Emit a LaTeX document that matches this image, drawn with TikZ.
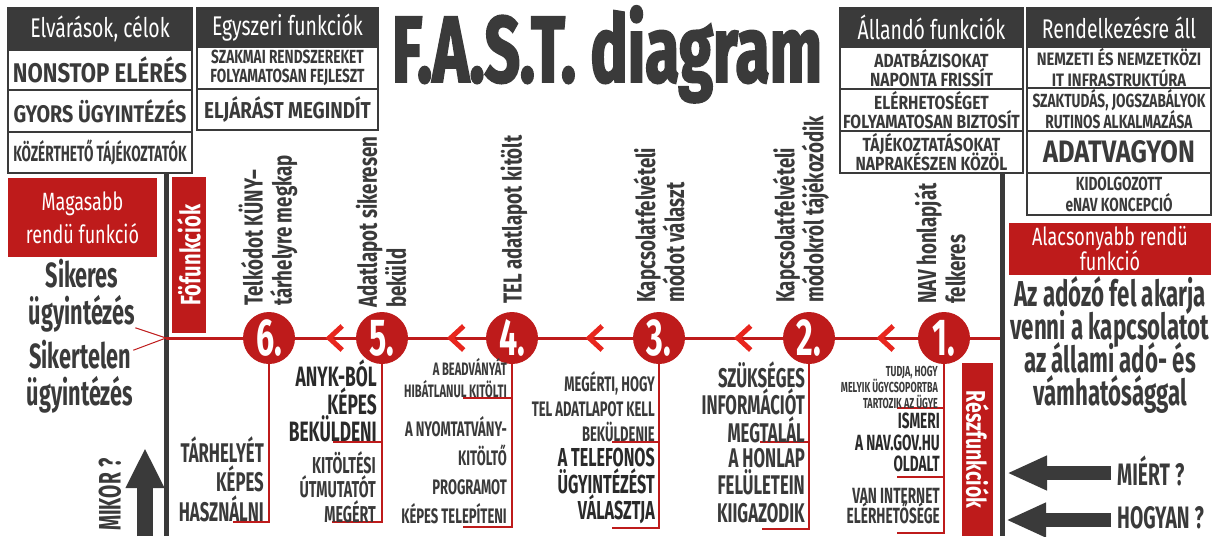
\documentclass[tikz,border=0pt]{standalone}
\usepackage{fontspec}
\usetikzlibrary{positioning,arrows.meta,decorations.markings}
\newfontfamily\narrowfont{Fira Sans}[FakeStretch=0.62]
\newfontfamily\cellfont{Fira Sans}[FakeStretch=0.72]
\newfontfamily\widefont{Fira Sans}[FakeStretch=0.82]
\newfontfamily\titlefont{Fira Sans}[FakeStretch=0.66, BoldFeatures={FakeBold=2}]
\newcommand{\fsz}[2]{\fontsize{#1}{#2}\selectfont\lineskiplimit=-30pt\relax}
\definecolor{fastgray}{HTML}{3A3A3A}
\definecolor{fastdark}{HTML}{2A2A2A}
\definecolor{fastred}{HTML}{BE1B1B}
\definecolor{chevred}{HTML}{E8261E}
\tikzset{
    table-head/.style = {fill=fastgray, draw=fastgray, line width=1.5pt, text=white, font=\cellfont\fsz{27}{30}, minimum height=39pt, inner sep=0pt, outer sep=0pt, anchor=north west},
    table-cell/.style = {draw=fastgray, fill=white, line width=1.5pt, text=fastgray, align=center, inner sep=0pt, outer sep=0pt},
    red-box/.style = {fill=fastred, text=white, align=center, inner sep=0pt, outer sep=0pt},
    step-circle/.style = {circle, fill=fastred, minimum size=52pt, inner sep=0pt, text=white, font=\narrowfont\bfseries\fsz{52}{52}},
    step-label/.style = {rotate=90, anchor=west, align=left, text=fastgray, inner sep=0pt, font=\cellfont\bfseries\fsz{26}{29}},
    col-text/.style = {anchor=north east, align=right, text=fastgray, inner sep=0pt},
    big-text/.style = {align=center, text=fastgray, inner sep=0pt, font=\narrowfont\bfseries\fsz{36}{33}},
    ask-text/.style = {text=fastgray, inner sep=0pt, font=\narrowfont\bfseries\fsz{31}{31}},
    bracket/.style = {draw=fastred, line width=2pt},
    thin-red/.style = {draw=fastred, line width=1pt},
    main-line/.style = {draw=fastred, line width=3pt},
    chevron-line/.style = {main-line, postaction={decorate}, decoration={markings, mark=at position 0.5 with {\arrow{Straight Barb[color=chevred, line width=5pt, length=13pt, width=24pt]}}}},
    big-arrow/.style = {draw=fastgray, line width=14pt, -{Triangle[length=40pt, width=32pt]}},
}

\begin{document}
\begin{tikzpicture}[x=1pt, y=-1pt]
\useasboundingbox (0,0) rectangle (1222,536);

% gerincek
\fill[fastgray] (163.5,173) rectangle (168.5,536);
\fill[fastgray] (999.5,173) rectangle (1004.5,536);

% tablazatok
\node[table-head, minimum width=184pt, minimum height=42pt] (ec-head) at (8,8) {Elvárások, célok};
\node[table-cell, minimum width=184pt, minimum height=40pt, below=0pt of ec-head, font=\widefont\bfseries\fsz{27}{30}] (ec-1) {NONSTOP ELÉRÉS};
\node[table-cell, minimum width=184pt, minimum height=42pt, below=0pt of ec-1, font=\widefont\bfseries\fsz{24}{26}] (ec-2) {GYORS ÜGYINTÉZÉS};
\node[table-cell, minimum width=184pt, minimum height=41pt, below=0pt of ec-2, font=\narrowfont\bfseries\fsz{22}{24}] (ec-3) {KÖZÉRTHETŐ TÁJÉKOZTATÓK};

\node[table-head, minimum width=181pt] (eg-head) at (197,8) {Egyszeri funkciók};
\node[table-cell, minimum width=181pt, minimum height=42pt, below=0pt of eg-head, font=\cellfont\bfseries\fsz{19}{19}] (eg-1) {SZAKMAI RENDSZEREKET\\FOLYAMATOSAN FEJLESZT};
\node[table-cell, minimum width=181pt, minimum height=41pt, below=0pt of eg-1, font=\widefont\bfseries\fsz{23}{25}] (eg-2) {ELJÁRÁST MEGINDÍT};

\node[table-head, minimum width=183pt] (al-head) at (840,8) {Állandó funkciók};
\node[table-cell, minimum width=183pt, minimum height=42pt, below=0pt of al-head, font=\widefont\bfseries\fsz{19}{19}] (al-1) {ADATBÁZISOKAT\\NAPONTA FRISSÍT};
\node[table-cell, minimum width=183pt, minimum height=42pt, below=0pt of al-1, font=\widefont\bfseries\fsz{19}{19}] (al-2) {ELÉRHETOSÉGET\\FOLYAMATOSAN BIZTOSÍT};
\node[table-cell, minimum width=183pt, minimum height=42pt, below=0pt of al-2, font=\widefont\bfseries\fsz{19}{19}] (al-3) {TÁJÉKOZTATÁSOKAT\\NAPRAKÉSZEN KÖZÖL};

\node[table-head, minimum width=184pt] (re-head) at (1027,8) {Rendelkezésre áll};
\node[table-cell, minimum width=184pt, minimum height=41pt, below=0pt of re-head, font=\widefont\bfseries\fsz{18}{21}] (re-1) {NEMZETI ÉS NEMZETKÖZI\\IT INFRASTRUKTÚRA};
\node[table-cell, minimum width=184pt, minimum height=43pt, below=0pt of re-1, font=\cellfont\bfseries\fsz{19}{21}] (re-2) {SZAKTUDÁS, JOGSZABÁLYOK\\RUTINOS ALKALMAZÁSA};
\node[table-cell, minimum width=184pt, minimum height=42pt, below=0pt of re-2, font=\widefont\bfseries\fsz{31}{32}] (re-3) {ADATVAGYON};
\node[table-cell, minimum width=184pt, minimum height=42pt, below=0pt of re-3, font=\cellfont\bfseries\fsz{19}{21}] (re-4) {KIDOLGOZOTT\\eNAV KONCEPCIÓ};

% cim
\node[anchor=base, inner sep=0pt, text=fastgray, font=\titlefont\bfseries\fsz{94}{94}] (title) at (607,82) {F.A.S.T.\ diagram};

% piros dobozok
\node[red-box, minimum width=149pt, minimum height=79pt, font=\cellfont\fsz{25}{33}] (higher) at (82.5,217.5) {Magasabb\\rendü funkció};
\node[red-box, rotate=90, minimum width=156pt, minimum height=34pt, font=\cellfont\bfseries\fsz{28}{30}] (main-fn) at (189,255) {Föfunkciók};
\node[red-box, rotate=-90, minimum width=173pt, minimum height=31pt, font=\cellfont\bfseries\fsz{27}{30}] (sub-fn) at (977.5,449.5) {Részfunkciók};
\node[red-box, minimum width=202pt, minimum height=52pt, font=\cellfont\fsz{25}{25}] (lower) at (1110,249) {Alacsonyabb rendü\\funkció};

% szovegek
\node[big-text, font=\narrowfont\bfseries\fsz{35}{37}] (succ) at (82,296) {Sikeres\\ügyintézés};
\node[big-text, font=\narrowfont\bfseries\fsz{35}{37}] (fail) at (80,377) {Sikertelen\\ügyintézés};
\node[big-text] (goal) at (1110,345) {Az adózó fel akarja\\venni a kapcsolatot\\az állami adó- és\\vámhatósággal};

% lepesek
\node[step-circle] (s1) at (944,338) {1.};
\node[step-circle] (s2) at (809,338) {2.};
\node[step-circle] (s3) at (659,338) {3.};
\node[step-circle] (s4) at (512,338) {4.};
\node[step-circle] (s5) at (382,338) {5.};
\node[step-circle] (s6) at (269,338) {6.};

\node[step-label] (l1) at (940,304) {NAV honlapját\\felkeres};
\node[step-label] (l2) at (801,303) {Kapcsolatfelvételi\\módokról tájékozódik};
\node[step-label] (l3) at (659,303) {Kapcsolatfelvételi\\módot választ};
\node[step-label] (l4) at (514,304) {TEL adatlapot kitölt};
\node[step-label] (l5) at (381,308) {Adatlapot sikeresen\\beküld};
\node[step-label] (l6) at (268,306) {Telkódot KÜNY–\\tárhelyre megkap};

% fo vonal
\coordinate (fo-end) at (166,338);
\coordinate (resz-end) at (1000,338);
\draw[main-line] (resz-end) -- (s1);
\draw[chevron-line] (s1) -- (s2);
\draw[chevron-line] (s2) -- (s3);
\draw[chevron-line] (s3) -- (s4);
\draw[chevron-line] (s4) -- (s5);
\draw[chevron-line] (s5) -- (s6);
\draw[main-line] (s6) -- (fo-end);
\draw[thin-red] ([yshift=5pt]succ.south east) -- (fo-end);
\draw[thin-red] ([yshift=-10pt]fail.north east) -- (fo-end);

% reszfunkciok oszlopai
\coordinate (b6) at (233,522);
\coordinate (b5) at (332,522);
\coordinate (m5) at (333,442);
\coordinate (b4) at (463,527);
\coordinate (m4) at (463,398);
\coordinate (b3) at (612,528);
\coordinate (m3) at (612,442);
\coordinate (b2) at (762,529);
\coordinate (m2) at (760,442);
\coordinate (b1) at (897,533);
\coordinate (m1a) at (897,408);
\coordinate (m1b) at (897,477);
\draw[bracket] (s6.south) |- (b6);
\draw[bracket] (s5.south) |- (b5);
\draw[bracket] (m5) -- (m5 -| s5);
\draw[bracket] (s4.south) |- (b4);
\draw[bracket] (m4) -- (m4 -| s4);
\draw[bracket] (s3.south) |- (b3);
\draw[bracket] (m3) -- (m3 -| s3);
\draw[bracket] (s2.south) |- (b2);
\draw[bracket] (m2) -- (m2 -| s2);
\draw[bracket] (s1.south) |- (b1);
\draw[bracket] (m1a) -- (m1a -| s1);
\draw[bracket] (m1b) -- (m1b -| s1);

\node[col-text, font=\narrowfont\bfseries\fsz{27}{29.5}] (c6) at (264,436) {TÁRHELYÉT\\KÉPES\\HASZNÁLNI};
\node[col-text, text=fastdark, font=\narrowfont\bfseries\fsz{28}{27.5}] (c5a) at (377,360) {ANYK-BÓL\\KÉPES\\BEKÜLDENI};
\node[col-text, font=\narrowfont\bfseries\fsz{23}{24.5}] (c5b) at (376,451) {KITÖLTÉSI\\ÚTMUTATÓT\\MEGÉRT};
\node[col-text, font=\narrowfont\bfseries\fsz{18}{22}] (c4a) at (507,358) {A BEADVÁNYÁT\\HIBÁTLANUL KITÖLTI};
\node[col-text, font=\narrowfont\bfseries\fsz{21}{29}] (c4b) at (507,416) {A NYOMTATVÁNY-\\KITÖLTŐ\\PROGRAMOT\\KÉPES TELEPÍTENI};
\node[col-text, font=\narrowfont\bfseries\fsz{21}{25}] (c3a) at (655,371) {MEGÉRTI, HOGY\\TEL ADATLAPOT KELL\\BEKÜLDENIE};
\node[col-text, text=fastdark, font=\narrowfont\bfseries\fsz{26}{26.5}] (c3b) at (655,448) {A TELEFONOS\\ÜGYINTÉZÉST\\VÁLASZTJA};
\node[col-text, font=\narrowfont\bfseries\fsz{27}{27.5}] (c2a) at (805,361) {SZÜKSÉGES\\INFORMÁCIÓT\\MEGTALÁL};
\node[col-text, font=\narrowfont\bfseries\fsz{27}{27.5}] (c2b) at (805,448) {A HONLAP\\FELÜLETEIN\\KIIGAZODIK};
\node[col-text, font=\narrowfont\bfseries\fsz{14.5}{16}] (c1a) at (938,366) {TUDJA, HOGY\\MELYIK ÜGYCSOPORTBA\\TARTOZIK AZ ÜGYE};
\node[col-text, text=fastdark, font=\narrowfont\bfseries\fsz{22}{21.5}] (c1b) at (940,413) {ISMERI\\A NAV.GOV.HU\\OLDALT};
\node[col-text, font=\narrowfont\bfseries\fsz{22}{20}] (c1c) at (940,488) {VAN INTERNET\\ELÉRHETŐSÉGE};

% kerdesek
\node[ask-text, anchor=west] (why) at (1117,471) {MIÉRT\,?};
\node[ask-text, anchor=west] (how) at (1117,518) {HOGYAN\,?};
\node[ask-text, rotate=90, anchor=west] (when) at (110,531) {MIKOR\,?};
\coordinate (why-tip) at (1007,473);
\coordinate (how-tip) at (1006,520);
\coordinate (when-tail) at (145,536);
\coordinate (when-tip) at (145,448);
\draw[big-arrow, shorten <=6pt] (why.west |- why-tip) -- (why-tip);
\draw[big-arrow, shorten <=6pt] (how.west |- how-tip) -- (how-tip);
\draw[big-arrow, line width=16pt, -{Triangle[length=40pt, width=36pt]}] (when-tail) -- (when-tip);
\end{tikzpicture}
\end{document}
